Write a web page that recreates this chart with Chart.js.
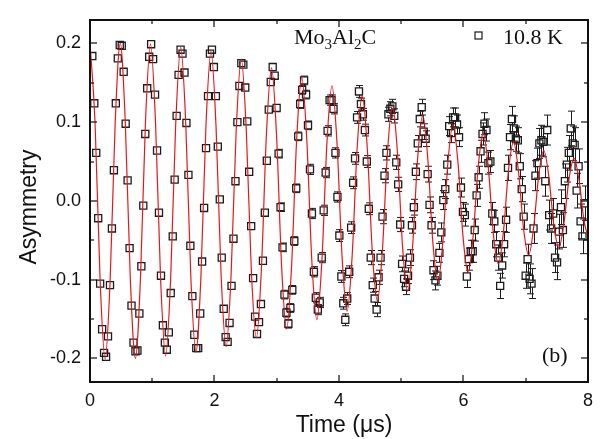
<!DOCTYPE html>
<html>
<head>
<meta charset="utf-8">
<script src="https://cdn.jsdelivr.net/npm/chart.js@4.4.0/dist/chart.umd.min.js"></script>
<style>
  html, body { margin: 0; padding: 0; background: #fff; }
</style>
</head>
<body>
<canvas id="muonChart" width="601" height="439"></canvas>
<script>
// muon spin rotation spectrum, 10.8 K
const timeUs = [
  0.037, 0.069, 0.100, 0.132, 0.163, 0.195, 0.226, 0.258, 0.289, 0.321,
  0.352, 0.384, 0.415, 0.447, 0.478, 0.510, 0.541, 0.573, 0.604, 0.636,
  0.667, 0.699, 0.730, 0.762, 0.793, 0.825, 0.856, 0.888, 0.919, 0.951,
  0.982, 1.014, 1.045, 1.077, 1.108, 1.140, 1.171, 1.203, 1.234, 1.266,
  1.297, 1.329, 1.360, 1.392, 1.423, 1.455, 1.486, 1.518, 1.549, 1.581,
  1.612, 1.644, 1.675, 1.707, 1.738, 1.770, 1.801, 1.833, 1.864, 1.896,
  1.927, 1.959, 1.990, 2.022, 2.053, 2.085, 2.116, 2.148, 2.179, 2.211,
  2.242, 2.274, 2.305, 2.337, 2.368, 2.400, 2.431, 2.463, 2.494, 2.526,
  2.557, 2.589, 2.620, 2.652, 2.683, 2.715, 2.746, 2.778, 2.809, 2.841,
  2.872, 2.904, 2.935, 2.967, 2.998, 3.030, 3.061, 3.093, 3.124, 3.156,
  3.187, 3.219, 3.250, 3.282, 3.313, 3.345, 3.376, 3.408, 3.439, 3.471,
  3.502, 3.534, 3.565, 3.597, 3.628, 3.660, 3.691, 3.723, 3.754, 3.786,
  3.817, 3.849, 3.880, 3.912, 3.943, 3.975, 4.006, 4.038, 4.069, 4.101,
  4.132, 4.164, 4.195, 4.227, 4.258, 4.290, 4.321, 4.353, 4.384, 4.416,
  4.447, 4.479, 4.510, 4.542, 4.573, 4.605, 4.636, 4.668, 4.699, 4.731,
  4.762, 4.794, 4.825, 4.857, 4.888, 4.920, 4.951, 4.983, 5.014, 5.046,
  5.077, 5.109, 5.140, 5.172, 5.203, 5.235, 5.266, 5.298, 5.329, 5.361,
  5.392, 5.424, 5.455, 5.487, 5.518, 5.550, 5.581, 5.613, 5.644, 5.676,
  5.707, 5.739, 5.770, 5.802, 5.833, 5.865, 5.896, 5.928, 5.959, 5.991,
  6.022, 6.054, 6.085, 6.117, 6.148, 6.180, 6.211, 6.243, 6.274, 6.306,
  6.337, 6.369, 6.400, 6.432, 6.463, 6.495, 6.526, 6.558, 6.589, 6.621,
  6.652, 6.684, 6.715, 6.747, 6.778, 6.810, 6.841, 6.873, 6.904, 6.936,
  6.967, 6.999, 7.030, 7.062, 7.093, 7.125, 7.156, 7.188, 7.219, 7.251,
  7.282, 7.314, 7.345, 7.377, 7.408, 7.440, 7.471, 7.503, 7.534, 7.566,
  7.597, 7.629, 7.660, 7.692, 7.723, 7.755, 7.786, 7.818, 7.849, 7.881,
  7.912, 7.944
];

const asymmetry = [
  0.184, 0.124, 0.061, -0.022, -0.105, -0.163, -0.193, -0.198, -0.172, -0.107,
  -0.035, 0.039, 0.124, 0.181, 0.198, 0.197, 0.164, 0.098, 0.026, -0.060,
  -0.133, -0.180, -0.191, -0.190, -0.143, -0.083, -0.006, 0.085, 0.143, 0.183,
  0.199, 0.180, 0.135, 0.064, -0.015, -0.095, -0.158, -0.180, -0.189, -0.167,
  -0.117, -0.045, 0.027, 0.108, 0.160, 0.192, 0.187, 0.163, 0.099, 0.033,
  -0.057, -0.121, -0.170, -0.187, -0.187, -0.143, -0.077, -0.009, 0.067, 0.133,
  0.187, 0.192, 0.170, 0.133, 0.069, 0.002, -0.072, -0.137, -0.173, -0.179,
  -0.155, -0.108, -0.048, 0.025, 0.100, 0.146, 0.175, 0.173, 0.144, 0.101,
  0.037, -0.032, -0.098, -0.147, -0.169, -0.154, -0.131, -0.076, -0.015, 0.051,
  0.116, 0.151, 0.170, 0.159, 0.118, 0.060, -0.008, -0.059, -0.119, -0.142,
  -0.156, -0.136, -0.113, -0.051, 0.016, 0.082, 0.123, 0.141, 0.153, 0.135,
  0.096, 0.040, -0.016, -0.090, -0.123, -0.138, -0.129, -0.072, -0.012, 0.036,
  0.089, 0.128, 0.128, 0.117, 0.061, 0.005, -0.044, -0.096, -0.130, -0.151,
  -0.124, -0.090, -0.034, 0.023, 0.054, 0.106, 0.139, 0.123, 0.110, 0.090,
  0.050, -0.010, -0.072, -0.107, -0.124, -0.138, -0.097, -0.072, -0.020, 0.032,
  0.061, 0.110, 0.117, 0.120, 0.108, 0.049, 0.021, -0.030, -0.080, -0.099,
  -0.109, -0.095, -0.072, -0.031, -0.008, 0.037, 0.073, 0.104, 0.119, 0.088,
  0.079, 0.034, -0.005, -0.031, -0.088, -0.101, -0.095, -0.066, -0.040, 0.001,
  0.015, 0.046, 0.095, 0.086, 0.106, 0.106, 0.097, 0.081, 0.017, -0.014,
  -0.018, -0.096, -0.074, -0.064, -0.064, -0.037, 0.007, 0.030, 0.063, 0.085,
  0.098, 0.090, 0.048, 0.050, -0.016, -0.026, -0.055, -0.072, -0.108, -0.082,
  -0.055, -0.024, 0.042, 0.081, 0.104, 0.092, 0.079, 0.077, 0.044, 0.015,
  -0.020, -0.095, -0.074, -0.099, -0.105, -0.035, 0.032, 0.048, 0.073, 0.077,
  0.075, 0.025, 0.090, -0.018, -0.035, -0.016, -0.072, -0.078, -0.039, -0.008,
  -0.037, 0.025, 0.046, 0.061, 0.092, 0.073, 0.071, 0.013, 0.044, -0.026,
  -0.045, -0.003
];

const asymmetryErr = [
  0.003, 0.003, 0.003, 0.003, 0.003, 0.003, 0.003, 0.003, 0.003, 0.003,
  0.003, 0.003, 0.003, 0.003, 0.003, 0.003, 0.003, 0.003, 0.003, 0.003,
  0.003, 0.003, 0.003, 0.003, 0.003, 0.003, 0.003, 0.003, 0.003, 0.003,
  0.003, 0.0035, 0.0035, 0.0035, 0.0035, 0.0035, 0.0035, 0.0035, 0.0035, 0.0035,
  0.0035, 0.0035, 0.0035, 0.0035, 0.0035, 0.0035, 0.0035, 0.0035, 0.0035, 0.0035,
  0.0035, 0.0035, 0.0035, 0.0035, 0.0035, 0.0035, 0.0035, 0.0035, 0.0035, 0.0035,
  0.0035, 0.0035, 0.0035, 0.0045, 0.0045, 0.0045, 0.0045, 0.0045, 0.0045, 0.0045,
  0.0045, 0.0045, 0.0045, 0.0045, 0.0045, 0.0045, 0.0045, 0.0045, 0.0045, 0.0045,
  0.0045, 0.0045, 0.0045, 0.0045, 0.0045, 0.0045, 0.0045, 0.0045, 0.0045, 0.0045,
  0.0045, 0.0045, 0.0045, 0.0045, 0.0045, 0.0055, 0.0055, 0.0055, 0.0055, 0.0055,
  0.0055, 0.0055, 0.0055, 0.0055, 0.0055, 0.0055, 0.0055, 0.0055, 0.0055, 0.0055,
  0.0055, 0.0065, 0.0065, 0.0065, 0.0065, 0.0065, 0.0065, 0.0065, 0.0065, 0.0065,
  0.0065, 0.0065, 0.0065, 0.0065, 0.0065, 0.0065, 0.0075, 0.0075, 0.0075, 0.0075,
  0.0075, 0.0075, 0.0075, 0.0075, 0.0075, 0.0075, 0.0075, 0.0075, 0.0075, 0.0075,
  0.0075, 0.0075, 0.009, 0.009, 0.009, 0.009, 0.009, 0.009, 0.009, 0.009,
  0.009, 0.009, 0.009, 0.009, 0.009, 0.009, 0.009, 0.009, 0.010, 0.010,
  0.010, 0.010, 0.010, 0.010, 0.010, 0.010, 0.010, 0.010, 0.010, 0.010,
  0.010, 0.010, 0.010, 0.010, 0.012, 0.012, 0.012, 0.012, 0.012, 0.012,
  0.012, 0.012, 0.012, 0.012, 0.012, 0.012, 0.012, 0.012, 0.012, 0.012,
  0.014, 0.014, 0.014, 0.014, 0.014, 0.014, 0.014, 0.014, 0.014, 0.014,
  0.014, 0.014, 0.014, 0.014, 0.014, 0.014, 0.016, 0.016, 0.016, 0.016,
  0.016, 0.016, 0.016, 0.016, 0.016, 0.016, 0.016, 0.016, 0.016, 0.016,
  0.016, 0.016, 0.019, 0.019, 0.019, 0.019, 0.019, 0.019, 0.019, 0.019,
  0.019, 0.019, 0.019, 0.019, 0.019, 0.019, 0.019, 0.022, 0.022, 0.022,
  0.022, 0.022, 0.022, 0.022, 0.022, 0.022, 0.022, 0.022, 0.022, 0.022,
  0.022, 0.022
];

// fitted precession curve, sampled six times per period
const fitTime = [
  0.000, 0.081, 0.162, 0.243, 0.324, 0.405, 0.486, 0.567, 0.648, 0.729,
  0.810, 0.891, 0.972, 1.053, 1.134, 1.215, 1.296, 1.377, 1.458, 1.539,
  1.620, 1.701, 1.782, 1.863, 1.944, 2.025, 2.106, 2.187, 2.268, 2.349,
  2.430, 2.511, 2.592, 2.673, 2.754, 2.835, 2.916, 2.997, 3.078, 3.159,
  3.240, 3.321, 3.402, 3.483, 3.564, 3.645, 3.726, 3.807, 3.888, 3.969,
  4.050, 4.131, 4.212, 4.293, 4.374, 4.455, 4.536, 4.617, 4.698, 4.779,
  4.860, 4.941, 5.022, 5.103, 5.184, 5.265, 5.346, 5.427, 5.508, 5.589,
  5.670, 5.751, 5.832, 5.913, 5.994, 6.075, 6.156, 6.237, 6.318, 6.399,
  6.480, 6.561, 6.642, 6.723, 6.804, 6.885, 6.966, 7.047, 7.128, 7.209,
  7.290, 7.371, 7.452, 7.533, 7.614, 7.695, 7.776, 7.857, 7.938, 8.019
];

const fitAsym = [
  0.200, 0.100, -0.100, -0.201, -0.100, 0.100, 0.200, 0.100, -0.100, -0.200,
  -0.100, 0.100, 0.199, 0.099, -0.099, -0.197, -0.098, 0.098, 0.195, 0.097,
  -0.097, -0.192, -0.096, 0.096, 0.190, 0.094, -0.094, -0.185, -0.091, 0.091,
  0.180, 0.089, -0.089, -0.174, -0.086, 0.086, 0.169, 0.083, -0.083, -0.163,
  -0.080, 0.080, 0.157, 0.077, -0.077, -0.151, -0.075, 0.075, 0.146, 0.072,
  -0.072, -0.140, -0.069, 0.069, 0.134, 0.066, -0.066, -0.127, -0.062, 0.062,
  0.121, 0.059, -0.059, -0.115, -0.056, 0.056, 0.109, 0.053, -0.053, -0.103,
  -0.050, 0.050, 0.097, 0.047, -0.047, -0.091, -0.044, 0.044, 0.086, 0.042,
  -0.042, -0.080, -0.039, 0.039, 0.075, 0.036, -0.036, -0.069, -0.033, 0.033,
  0.064, 0.031, -0.031, -0.059, -0.028, 0.028, 0.054, 0.026, -0.026, -0.050
];

const xMajorTicks = [0, 2, 4, 6, 8];
const xMinorTicks = [1, 3, 5, 7];
const yMajorTicks = [-0.2, -0.1, 0, 0.1, 0.2];
const yMinorTicks = [-0.15, -0.05, 0.05, 0.15];

const sansFont = '"Liberation Sans", Arial, sans-serif';
const serifFont = '"Liberation Serif", "Times New Roman", serif';
const inkColor = '#111111';
const markColor = '#1c1c1c';

// frame with inward ticks on all four sides, error bars and the text labels
const axisDecor = {
  id: 'axisDecor',
  beforeDatasetsDraw(chart) {
    const { ctx, chartArea: area, scales: { x, y } } = chart;
    const half = 3.6, cap = 3.5;
    ctx.save();
    ctx.beginPath();
    ctx.rect(area.left, area.top, area.right - area.left, area.bottom - area.top);
    ctx.clip();
    ctx.strokeStyle = markColor;
    ctx.lineWidth = 1;
    timeUs.forEach((t, i) => {
      const px = Math.round(x.getPixelForValue(t)) + 0.5;
      const py = y.getPixelForValue(asymmetry[i]);
      const hi = y.getPixelForValue(asymmetry[i] + asymmetryErr[i]);
      const lo = y.getPixelForValue(asymmetry[i] - asymmetryErr[i]);
      ctx.beginPath();
      if (py - hi > half + 0.5) {
        ctx.moveTo(px, py - half); ctx.lineTo(px, hi);
        ctx.moveTo(px - cap, hi); ctx.lineTo(px + cap, hi);
      }
      if (lo - py > half + 0.5) {
        ctx.moveTo(px, py + half); ctx.lineTo(px, lo);
        ctx.moveTo(px - cap, lo); ctx.lineTo(px + cap, lo);
      }
      ctx.stroke();
    });
    ctx.restore();
  },
  afterDraw(chart) {
    const { ctx, chartArea: area, scales: { x, y } } = chart;
    const L = Math.round(area.left), R = Math.round(area.right);
    const T = Math.round(area.top), B = Math.round(area.bottom);
    ctx.save();
    ctx.fillStyle = inkColor;
    // box
    ctx.fillRect(L - 1, T - 1, R - L + 2, 2);
    ctx.fillRect(L - 1, B - 1, R - L + 2, 2);
    ctx.fillRect(L - 1, T - 1, 2, B - T + 2);
    ctx.fillRect(R - 1, T - 1, 2, B - T + 2);

    const xTick = (v, len) => {
      const px = Math.round(x.getPixelForValue(v));
      ctx.fillRect(px - 0.6, B - len, 1.2, len);
      ctx.fillRect(px - 0.6, T, 1.2, len);
    };
    const yTick = (v, len) => {
      const py = Math.round(y.getPixelForValue(v));
      ctx.fillRect(L, py - 0.6, len, 1.2);
      ctx.fillRect(R - len, py - 0.6, len, 1.2);
    };
    xMajorTicks.forEach(v => xTick(v, 7));
    xMinorTicks.forEach(v => xTick(v, 4));
    yMajorTicks.forEach(v => yTick(v, 7));
    yMinorTicks.forEach(v => yTick(v, 4));

    // axis titles
    ctx.font = '23px ' + sansFont;
    ctx.textAlign = 'center';
    ctx.textBaseline = 'middle';
    ctx.fillText('Time (\u03bcs)', 344, 426);
    ctx.save();
    ctx.translate(30, 207);
    ctx.rotate(-Math.PI / 2);
    ctx.fillText('Asymmetry', 0, 0);
    ctx.restore();

    // compound name with subscripts
    ctx.textAlign = 'left';
    ctx.textBaseline = 'alphabetic';
    let cx = 294;
    [['Mo', false], ['3', true], ['Al', false], ['2', true], ['C', false]].forEach(([s, sub]) => {
      ctx.font = (sub ? '15px ' : '22px ') + serifFont;
      ctx.fillText(s, cx, sub ? 48.5 : 43.5);
      cx += ctx.measureText(s).width;
    });

    // legend entry
    ctx.strokeStyle = markColor;
    ctx.lineWidth = 1.2;
    ctx.strokeRect(475, 32, 7, 7);
    ctx.font = '22px ' + serifFont;
    ctx.fillText('10.8 K', 503, 43.5);

    // panel label
    ctx.fillText('(b)', 542, 362);
    ctx.restore();
  }
};

const ctx = document.getElementById('muonChart').getContext('2d');
new Chart(ctx, {
  type: 'scatter',
  data: {
    datasets: [
      {
        label: 'fit',
        data: fitTime.map((t, i) => ({ x: t, y: fitAsym[i] })),
        showLine: true,
        borderColor: '#e8161b',
        borderWidth: 1.2,
        pointRadius: 0,
        cubicInterpolationMode: 'monotone',
        order: 0
      },
      {
        label: '10.8 K',
        data: timeUs.map((t, i) => ({ x: t, y: asymmetry[i] })),
        pointStyle: 'rect',
        pointRadius: 5,
        pointBorderWidth: 1.3,
        pointBorderColor: markColor,
        pointBackgroundColor: 'rgba(0,0,0,0)',
        order: 1
      }
    ]
  },
  options: {
    responsive: false,
    animation: false,
    devicePixelRatio: 1,
    layout: { padding: { top: 10, right: 11, left: 0, bottom: 0 } },
    plugins: { legend: { display: false }, tooltip: { enabled: false } },
    scales: {
      x: {
        type: 'linear',
        min: 0,
        max: 8,
        grid: { display: false, drawTicks: false },
        border: { display: false },
        ticks: {
          color: inkColor,
          font: { family: sansFont, size: 18 },
          padding: 8,
          maxRotation: 0,
          autoSkip: false
        },
        afterBuildTicks: s => { s.ticks = xMajorTicks.map(v => ({ value: v })); },
        afterFit: s => { s.height = 57; }
      },
      y: {
        type: 'linear',
        min: -0.23,
        max: 0.23,
        grid: { display: false, drawTicks: false },
        border: { display: false },
        ticks: {
          color: inkColor,
          font: { family: sansFont, size: 18 },
          padding: 9,
          autoSkip: false,
          callback: v => v.toFixed(1)
        },
        afterBuildTicks: s => { s.ticks = yMajorTicks.map(v => ({ value: v })); },
        afterFit: s => { s.width = 90; }
      }
    }
  },
  plugins: [axisDecor]
});
</script>
</body>
</html>
